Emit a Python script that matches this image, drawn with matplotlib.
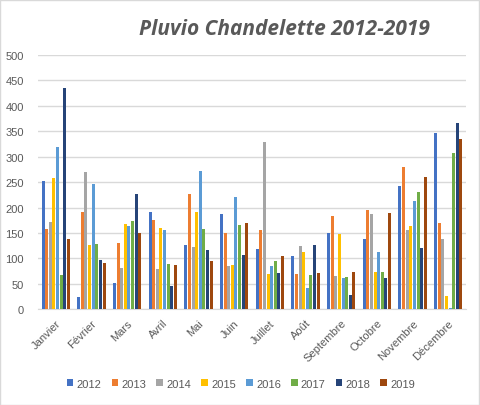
import matplotlib
matplotlib.use("Agg")
import matplotlib.pyplot as plt
import numpy as np

months = ["Janvier", "Février", "Mars", "Avril", "Mai", "Juin", "Juillet",
          "Août", "Septembre", "Octobre", "Novembre", "Décembre"]
years = ["2012", "2013", "2014", "2015", "2016", "2017", "2018", "2019"]

v2012 = [253, 24, 51, 192, 126, 187, 118, 104, 149, 139, 243, 346]
v2013 = [157, 192, 130, 175, 226, 149, 155, 69, 183, 196, 279, 169]
v2014 = [171, 269, 82, 79, 122, 84, 328, 124, 65, 187, 155, 139]
v2015 = [259, 126, 167, 159, 192, 86, 69, 112, 147, 73, 163, 26]
v2016 = [320, 247, 163, 155, 271, 220, 84, 41, 61, 112, 212, 2]
v2017 = [67, 128, 173, 88, 157, 165, 94, 67, 63, 73, 230, 308]
v2018 = [436, 96, 226, 45, 116, 106, 71, 126, 27, 61, 120, 367]
v2019 = [139, 90, 149, 86, 94, 169, 104, 71, 73, 190, 261, 334]

series = [v2012, v2013, v2014, v2015, v2016, v2017, v2018, v2019]
colors = ["#4472C4", "#ED7D31", "#A5A5A5", "#FFC000",
          "#5B9BD5", "#70AD47", "#264478", "#9E480E"]

plt.rcParams['font.family'] = ['Liberation Sans', 'DejaVu Sans']

fig = plt.figure(figsize=(4.8, 4.06), dpi=100)
fig.patch.set_facecolor("white")
ax = fig.add_axes([0.079, 0.236, 0.892, 0.626])

x = np.arange(len(months))
slot = 0.102
bw = 0.084
for i, (vals, c, yr) in enumerate(zip(series, colors, years)):
    ax.bar(x + (i - 3.5) * slot, vals, width=bw, color=c, label=yr, zorder=3)

ax.set_xlim(-0.5, len(months) - 0.5)
ax.set_ylim(0, 500)
ax.set_yticks(np.arange(0, 501, 50))
ax.yaxis.grid(True, color="#D9D9D9", linewidth=1, zorder=0)
for s in ["top", "right", "left"]:
    ax.spines[s].set_visible(False)
ax.spines["bottom"].set_color("#D9D9D9")
ax.tick_params(axis="both", length=0, colors="#595959", labelsize=8)
ax.tick_params(axis="y", pad=10)
ax.set_xticks(x)
ax.set_xticklabels(months, rotation=45, ha="right", rotation_mode="anchor")
ax.tick_params(axis="x", pad=6)

fig.text(0.592, 0.927, "Pluvio Chandelette 2012-2019", ha="center", va="center",
         fontsize=15, fontstyle="italic", fontweight="bold", color="#595959",
         family="Open Sans")

leg = fig.legend(loc="center", bbox_to_anchor=(0.502, 0.052), ncol=8,
                 frameon=False, fontsize=8, handlelength=0.6, handleheight=0.6,
                 columnspacing=0.9, handletextpad=0.3)
for t in leg.get_texts():
    t.set_color("#595959")

fig.add_artist(plt.Rectangle((0.001, 0.001), 0.997, 0.997, transform=fig.transFigure,
                             fill=False, edgecolor="#D9D9D9", linewidth=1))

fig.savefig("out.png", dpi=100)
